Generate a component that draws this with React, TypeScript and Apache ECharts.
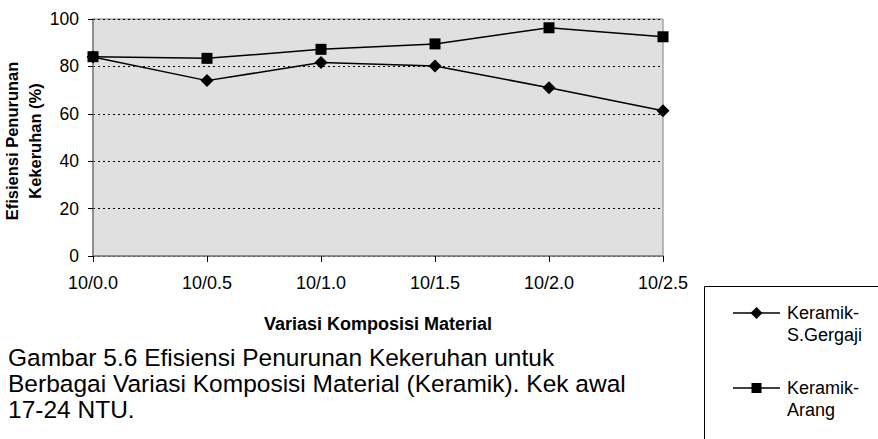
import React, { useEffect, useRef } from "react";
import * as echarts from "echarts";

const categories = ["10/0.0", "10/0.5", "10/1.0", "10/1.5", "10/2.0", "10/2.5"];
const seriesNames = ["Keramik-\nS.Gergaji", "Keramik-\nArang"];
const gergaji = [84.0, 74.0, 81.6, 80.2, 71.0, 61.3];
const arang = [84.1, 83.4, 87.2, 89.5, 96.3, 92.5];
const yTicks = [0, 20, 40, 60, 80, 100];
const yTitle = "Efisiensi Penurunan\nKekeruhan (%)";
const xTitle = "Variasi Komposisi Material";
const caption = [
  "Gambar 5.6 Efisiensi Penurunan Kekeruhan untuk",
  "Berbagai Variasi Komposisi Material (Keramik). Kek awal",
  "17-24 NTU.",
];

const FONT = "'Liberation Sans', Arial, sans-serif";

export default function App() {
  const ref = useRef<HTMLDivElement>(null);
  useEffect(() => {
    if (!ref.current) return;
    const chart = echarts.init(ref.current, undefined, { renderer: "svg" });
    const lx = 733;
    const legendRows = [313, 388];
    const graphics: any[] = [
      {
        type: "rect",
        shape: { x: 704.5, y: 286.5, width: 200, height: 200 },
        style: { fill: "#fff", stroke: "#000", lineWidth: 1 },
        z: 1,
      },
    ];
    legendRows.forEach((y, i) => {
      graphics.push({
        type: "line",
        shape: { x1: lx, y1: y, x2: lx + 47, y2: y },
        style: { stroke: "#000", lineWidth: 1.5 },
        z: 2,
      });
      if (i === 0) {
        graphics.push({
          type: "polygon",
          shape: { points: [[lx + 23.5, y - 6], [lx + 29.5, y], [lx + 23.5, y + 6], [lx + 17.5, y]] },
          style: { fill: "#000" },
          z: 3,
        });
      } else {
        graphics.push({
          type: "rect",
          shape: { x: lx + 18.5, y: y - 5, width: 10, height: 10 },
          style: { fill: "#000" },
          z: 3,
        });
      }
      graphics.push({
        type: "text",
        x: 787,
        y: y - 11,
        style: {
          text: seriesNames[i],
          font: `18px ${FONT}`,
          fill: "#000",
          lineHeight: 22,
          verticalAlign: "top",
        },
        z: 3,
      });
    });
    caption.forEach((line, i) => {
      graphics.push({
        type: "text",
        x: 8,
        y: 357 + i * 26,
        style: {
          text: line,
          font: `24.5px ${FONT}`,
          fill: "#000",
          verticalAlign: "middle",
        },
      });
    });
    graphics.push({
      type: "text",
      x: 378,
      y: 324,
      style: {
        text: xTitle,
        font: `bold 18px ${FONT}`,
        fill: "#000",
        align: "center",
        verticalAlign: "middle",
      },
    });
    graphics.push({
      type: "text",
      x: 23.5,
      y: 141,
      rotation: Math.PI / 2,
      style: {
        text: yTitle,
        font: `bold 16.5px ${FONT}`,
        fill: "#000",
        lineHeight: 23,
        align: "center",
        verticalAlign: "middle",
      },
    });

    chart.setOption({
      animation: false,
      backgroundColor: "#fff",
      grid: {
        left: 93,
        top: 19,
        width: 570,
        height: 237,
        show: true,
        containLabel: false,
        outerBoundsMode: "none",
        backgroundColor: "#e0e0e0",
        borderColor: "#808080",
        borderWidth: 1,
      },
      xAxis: {
        type: "category",
        data: categories,
        boundaryGap: false,
        axisLine: { lineStyle: { color: "#808080", width: 1.5 } },
        axisTick: { show: true, length: 6, lineStyle: { color: "#000" } },
        axisLabel: { color: "#000", fontSize: 18, fontFamily: FONT, margin: 18 },
      },
      yAxis: {
        type: "value",
        min: 0,
        max: 100,
        interval: 20,
        axisLine: { show: true, lineStyle: { color: "#808080", width: 1.5 } },
        axisTick: { show: true, length: 5, lineStyle: { color: "#000" } },
        axisLabel: {
          color: "#000",
          fontSize: 17.5,
          fontFamily: FONT,
          margin: 14,
          formatter: (v: number) => (yTicks.includes(v) ? String(v) : ""),
        },
        splitLine: { show: true, lineStyle: { color: "#000", type: [2, 3], width: 1 } },
      },
      series: [
        {
          name: seriesNames[0],
          type: "line",
          data: gergaji,
          symbol: "diamond",
          symbolSize: 13,
          lineStyle: { color: "#000", width: 1.5 },
          itemStyle: { color: "#000" },
          z: 3,
        },
        {
          name: seriesNames[1],
          type: "line",
          data: arang,
          symbol: "rect",
          symbolSize: 11,
          lineStyle: { color: "#000", width: 1.5 },
          itemStyle: { color: "#000" },
          z: 4,
        },
      ],
      graphic: graphics,
    });
    return () => chart.dispose();
  }, []);
  return <div ref={ref} style={{ width: 878, height: 439, position: "absolute", left: 0, top: 0 }} />;
}
